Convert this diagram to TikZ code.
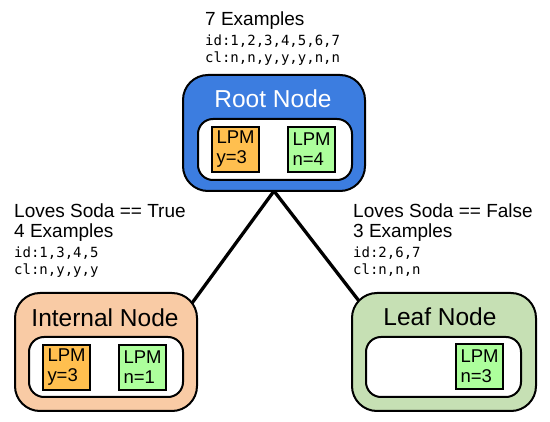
\documentclass[tikz,border=0pt]{standalone}
\usepackage{fontspec}
\setmainfont{Liberation Sans}
\setmonofont{DejaVu Sans Mono}
\usetikzlibrary{backgrounds}
\definecolor{rootblue}{HTML}{3C7DE0}
\definecolor{peach}{HTML}{F9CBA5}
\definecolor{leafgreen}{HTML}{C6E0B4}
\definecolor{lpmorange}{HTML}{FFBF4F}
\definecolor{lpmgreen}{HTML}{ADFF9C}
\tikzset{
  outerbox/.style={draw=black, line width=2pt, rounded corners=25pt, inner sep=0pt, outer sep=0pt, anchor=north west},
  innerbox/.style={draw=black, fill=white, line width=2pt, rounded corners=15pt, inner sep=0pt, outer sep=0pt, anchor=north west},
  lpmbox/.style={draw=black, line width=1.2pt, inner xsep=4.5pt, inner ysep=0pt, outer sep=0pt, anchor=north west,
     minimum width=47pt, minimum height=45pt, text width=38pt, align=left,
     font=\fontsize{18.5}{20}\selectfont},
  titletxt/.style={anchor=base, inner sep=0pt, font=\fontsize{24.5}{28}\selectfont},
  headtxt/.style={anchor=base west, inner sep=0pt, font=\fontsize{19}{22}\selectfont},
  monotxt/.style={anchor=base west, inner sep=0pt, font=\ttfamily\fontsize{14}{16}\selectfont},
  edge/.style={draw=black, line width=3.3pt}
}
\begin{document}
\begin{tikzpicture}[x=1pt,y=-1pt]
\useasboundingbox (0,0) rectangle (550,422);

% Root
\node[outerbox, fill=rootblue, minimum width=182pt, minimum height=116pt] (root) at (183,75) {};
\node[titletxt, text=white] (rootT) at (273,108) {Root Node};
\node[innerbox, minimum width=154pt, minimum height=61pt] (rootIn) at (198,119) {};
\node[lpmbox, fill=lpmorange] (rootA) at (212,127) {LPM\\y=3};
\node[lpmbox, fill=lpmgreen] (rootB) at (288,127) {LPM\\n=4};

% Internal
\node[outerbox, fill=peach, minimum width=182pt, minimum height=118pt] (int) at (15,293) {};
\node[titletxt] (intT) at (105,327) {Internal Node};
\node[innerbox, minimum width=154pt, minimum height=60pt] (intIn) at (29,337) {};
\node[lpmbox, fill=lpmorange] (intA) at (43,345) {LPM\\y=3};
\node[lpmbox, fill=lpmgreen] (intB) at (119,345) {LPM\\n=1};

% Leaf
\node[outerbox, fill=leafgreen, minimum width=184pt, minimum height=118pt] (leaf) at (352,293) {};
\node[titletxt] (leafT) at (440,326) {Leaf Node};
\node[innerbox, minimum width=155pt, minimum height=60pt] (leafIn) at (366,337) {};
\node[lpmbox, fill=lpmgreen] (leafB) at (456,344) {LPM\\n=3};

% Labels
\node[headtxt] (l1) at (205,26) {7 Examples};
\node[monotxt] (l2) at (205,46) {id:1,2,3,4,5,6,7};
\node[monotxt] (l3) at (205,63) {cl:n,n,y,y,y,n,n};

\node[headtxt] (a1) at (14,218) {Loves Soda == True};
\node[headtxt] (a2) at (14,238) {4 Examples};
\node[monotxt] (a3) at (14,258) {id:1,3,4,5};
\node[monotxt] (a4) at (14,275) {cl:n,y,y,y};

\node[headtxt] (b1) at (353,218) {Loves Soda == False};
\node[headtxt] (b2) at (353,238) {3 Examples};
\node[monotxt] (b3) at (353,258) {id:2,6,7};
\node[monotxt] (b4) at (353,275) {cl:n,n,n};

\coordinate (intEnd) at (176,325);
\coordinate (leafEnd) at (376,323);
\begin{scope}[on background layer]
\draw[edge] (root.south) -- (intEnd);
\draw[edge] (root.south) -- (leafEnd);
\end{scope}
\end{tikzpicture}
\end{document}
